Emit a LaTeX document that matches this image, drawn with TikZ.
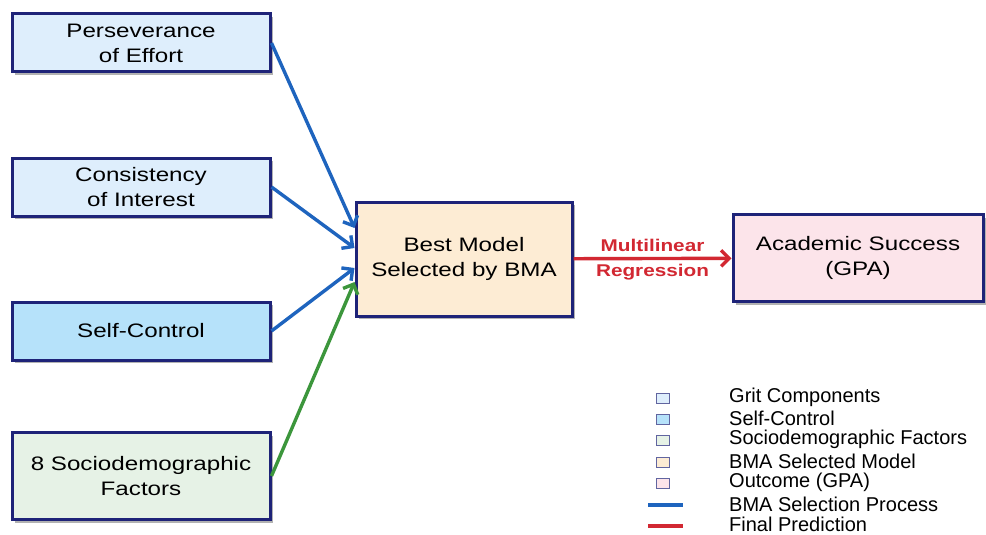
\documentclass[tikz,border=0pt]{standalone}
\usepackage{fontspec}
\setmainfont{Liberation Sans}
\newfontfamily\boxfont{Liberation Sans}[FakeStretch=1.24]
\newfontfamily\labfont{Liberation Sans}[FakeStretch=1.22]
\usepackage{tikz}
\usetikzlibrary{arrows.meta,shapes,shadows,positioning}
\definecolor{navyline}{RGB}{30,35,120}
\definecolor{selblue}{RGB}{30,100,190}
\definecolor{socgreen}{RGB}{60,150,60}
\definecolor{predred}{RGB}{210,40,50}
\definecolor{gritfill}{RGB}{222,238,252}
\definecolor{ctrlfill}{RGB}{182,226,250}
\definecolor{socfill}{RGB}{230,242,230}
\definecolor{bmafill}{RGB}{253,236,212}
\definecolor{gpafill}{RGB}{252,228,234}

\begin{document}
\begin{tikzpicture}[
    x=1pt, y=-1pt,
    box/.style={rectangle, draw=navyline, line width=3pt, minimum width=258pt, minimum height=58pt, align=center,
        font=\boxfont\fontsize{19.5}{25}\selectfont, drop shadow={shadow xshift=3pt, shadow yshift=-3pt, fill=black!30, opacity=1}},
    legbox/.style={rectangle, draw=navyline!70, line width=0.9pt, minimum width=13pt, minimum height=10pt, inner sep=0pt},
    legtext/.style={anchor=west, inner sep=0pt, font=\fontsize{20}{21}\selectfont},
    arrow/.style={-{Straight Barb[length=8pt,width=16pt]}, line width=3.4pt}
]
    \useasboundingbox (0,0) rectangle (986,535);

    % inputs
    \node[box, fill=gritfill] (persev) at (141,43) {Perseverance\\of Effort};
    \node[box, fill=gritfill] (consist) at (141,187) {Consistency\\of Interest};
    \node[box, fill=ctrlfill] (selfctl) at (141,331) {Self-Control};
    \node[box, fill=socfill, minimum height=87pt] (socio) at (141,476) {8 Sociodemographic\\Factors};

    % model and outcome
    \node[box, fill=bmafill, minimum width=216pt, minimum height=114pt] (bma) at (464,259) {Best Model\\Selected by BMA};
    \node[box, fill=gpafill, minimum width=250pt, minimum height=87pt] (gpa) at (858,258) {Academic Success\\(GPA)};

    \draw[arrow, selblue] (persev.east) -- ([yshift=31pt]bma.west);
    \draw[arrow, selblue] (consist.east) -- ([yshift=11pt]bma.west);
    \draw[arrow, selblue] (selfctl.east) -- ([yshift=-9pt]bma.west);
    \draw[arrow, socgreen] (socio.east) -- ([yshift=-23pt]bma.west);
    \draw[arrow, predred] (bma) -- (gpa)
        node[midway, above=2pt, font=\labfont\fontsize{17}{20}\selectfont\bfseries] (mlr) {Multilinear}
        node[midway, below=1pt, font=\labfont\fontsize{17}{20}\selectfont\bfseries] (reg) {Regression};

    % legend
    \node[legbox, fill=gritfill] (leg1) at (663,398) {};
    \node[legbox, fill=ctrlfill] (leg2) at (663,419) {};
    \node[legbox, fill=socfill] (leg3) at (663,440) {};
    \node[legbox, fill=bmafill] (leg4) at (663,462) {};
    \node[legbox, fill=gpafill] (leg5) at (663,483) {};
    \coordinate (l6a) at (648,505);
    \coordinate (l6b) at (683,505);
    \coordinate (l7a) at (648,526);
    \coordinate (l7b) at (683,526);
    \draw[selblue, line width=3.4pt] (l6a) -- (l6b);
    \draw[predred, line width=3.4pt] (l7a) -- (l7b);

    \node[legtext] (t1) at (729,397) {Grit Components};
    \node[legtext] (t2) at (729,418) {Self-Control};
    \node[legtext] (t3) at (729,439) {Sociodemographic Factors};
    \node[legtext] (t4) at (729,461) {BMA Selected Model};
    \node[legtext] (t5) at (729,482) {Outcome (GPA)};
    \node[legtext] (t6) at (729,504) {BMA Selection Process};
    \node[legtext] (t7) at (729,524) {Final Prediction};
\end{tikzpicture}
\end{document}
